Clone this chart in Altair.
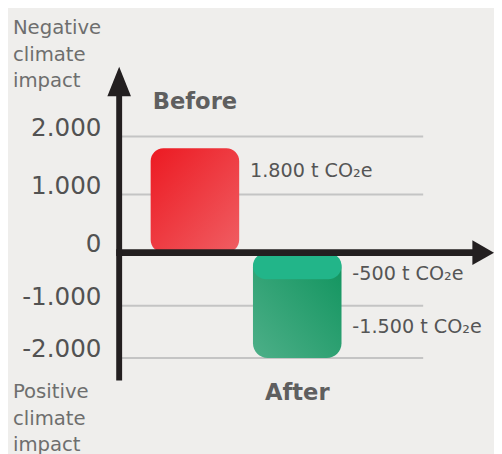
import altair as alt
import pandas as pd

# ---- data ----
categories = ["Before", "After", "After"]
segment_values = [1800, -500, -1500]
segment_parts = ["total", "cap", "body"]
value_labels = ["1.800 t CO₂e", "-500 t CO₂e", "-1.500 t CO₂e"]
tick_values = [2000, 1000, 0, -1000, -2000]
tick_labels = ["2.000", "1.000", "0", "-1.000", "-2.000"]
category_order = ["Before", "After"]

FONT = "DejaVu Sans"
DARK = "#231f20"

seg = pd.DataFrame({"category": categories, "value": segment_values,
                    "part": segment_parts, "label": value_labels})
seg["end"] = seg.groupby("category")["value"].cumsum()
seg["start"] = seg["end"] - seg["value"]
totals = seg.groupby("category", as_index=False)["value"].sum().rename(columns={"value": "total"})
ticks = pd.DataFrame({"tick": tick_values, "label": tick_labels})
zero = pd.DataFrame({"v": [0]})
one = pd.DataFrame({"a": [0]})
cats = pd.DataFrame({"category": category_order})

yscale = alt.Scale(domain=[-2000, -1000, 0, 1000, 2000],
                   range=[352, 299, 245, 186, 127], nice=False, zero=False)
xscale = alt.Scale(domain=category_order, range=[145, 339],
                   paddingInner=0.1346, paddingOuter=0)

X = lambda **kw: alt.X("category:N", scale=xscale, axis=None, **kw)

grid = alt.Chart(ticks).mark_rule(color="#c4c4c4", strokeWidth=2).encode(
    y=alt.Y("tick:Q", scale=yscale, axis=None),
    x=alt.value(113), x2=alt.value(422))

tick_text = alt.Chart(ticks).mark_text(
    font=FONT, fontSize=25, color="#525252", align="right", baseline="middle", dy=-9
).encode(y=alt.Y("tick:Q", scale=yscale, axis=None), x=alt.value(95), text="label:N")

red_grad = alt.Gradient(gradient="linear", x1=0, y1=0, x2=1, y2=1,
                        stops=[alt.GradientStop(color="#ec1a22", offset=0),
                               alt.GradientStop(color="#f05e63", offset=1)])
green_grad = alt.Gradient(gradient="linear", x1=1, y1=0, x2=0, y2=1,
                          stops=[alt.GradientStop(color="#0f935d", offset=0),
                                 alt.GradientStop(color="#4daf88", offset=1)])

red_bar = alt.Chart(totals).transform_filter("datum.category == 'Before'").mark_bar(
    color=red_grad, cornerRadius=13).encode(
    x=X(), y=alt.Y("total:Q", scale=yscale, axis=None), y2=alt.datum(0))

green_body = alt.Chart(totals).transform_filter("datum.category == 'After'").mark_bar(
    color=green_grad, cornerRadius=15).encode(
    x=X(), y=alt.Y("total:Q", scale=yscale, axis=None), y2=alt.datum(0))

green_cap = alt.Chart(seg).transform_filter("datum.part == 'cap'").mark_bar(
    color="#22b589", cornerRadius=14).encode(
    x=X(), y=alt.Y("start:Q", scale=yscale, axis=None), y2="end:Q")

red_label = alt.Chart(seg).transform_filter("datum.category == 'Before'").mark_text(
    font=FONT, fontSize=19.5, color="#555555", align="left", baseline="middle", dx=11, dy=23
).encode(x=X(bandPosition=1), y=alt.Y("value:Q", scale=yscale, axis=None), text="label:N")

green_label = alt.Chart(seg).transform_filter("datum.category == 'After'").mark_text(
    font=FONT, fontSize=19.5, color="#555555", align="left", baseline="middle", dx=11, dy=-5
).encode(x=X(bandPosition=1), y=alt.Y("value:Q", scale=yscale, axis=None), text="label:N")

v_axis = alt.Chart(one).mark_rule(color=DARK, strokeWidth=6).encode(
    x=alt.value(113), y=alt.value(84), y2=alt.value(375))
h_axis = alt.Chart(zero).mark_rule(color=DARK, strokeWidth=7).encode(
    y=alt.Y("v:Q", scale=yscale, axis=None), x=alt.value(110), x2=alt.value(474))

up_arrow = alt.Chart(one).mark_point(
    shape="M0,-1L0.8,1L-0.8,1Z", filled=True, opacity=1, color=DARK, size=900
).encode(x=alt.value(113), y=alt.value(71))
right_arrow = alt.Chart(zero).mark_point(
    shape="M0.88,0L-0.88,-1L-0.88,1Z", filled=True, opacity=1, color=DARK, size=625
).encode(x=alt.value(483), y=alt.Y("v:Q", scale=yscale, axis=None))

before_txt = alt.Chart(cats).transform_filter("datum.category == 'Before'").mark_text(
    font=FONT, fontSize=23, fontWeight="bold", color="#5f5f5f", baseline="alphabetic"
).encode(x=X(), y=alt.value(99), text="category:N")
after_txt = alt.Chart(cats).transform_filter("datum.category == 'After'").mark_text(
    font=FONT, fontSize=23, fontWeight="bold", color="#5f5f5f", baseline="alphabetic"
).encode(x=X(), y=alt.value(395), text="category:N")

neg_txt = alt.Chart(one).mark_text(
    text=["Negative", "climate", "impact"], font=FONT, fontSize=20, color="#6e6e6e",
    align="left", baseline="alphabetic", lineHeight=27
).encode(x=alt.value(5), y=alt.value(23))
pos_txt = alt.Chart(one).mark_text(
    text=["Positive", "climate", "impact"], font=FONT, fontSize=20, color="#6e6e6e",
    align="left", baseline="alphabetic", lineHeight=27
).encode(x=alt.value(5), y=alt.value(393))

chart = alt.layer(
    grid, red_bar, green_body, green_cap, h_axis, v_axis, up_arrow, right_arrow,
    tick_text, red_label, green_label, before_txt, after_txt, neg_txt, pos_txt
).properties(
    width=494, height=446, autosize=alt.AutoSizeParams(type="none"), padding=0,
    background="#efeeec"
).configure_view(stroke=None)

chart.save("out.html", embed_options={"renderer": "svg", "actions": False})
